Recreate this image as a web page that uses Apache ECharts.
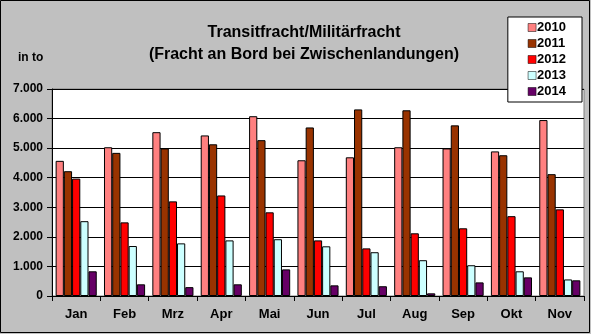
<!DOCTYPE html>
<html>
<head>
<meta charset="utf-8">
<script src="https://cdn.jsdelivr.net/npm/echarts@6/dist/echarts.min.js"></script>
<style>
html,body{margin:0;padding:0;background:#c0c0c0;}
#c{width:591px;height:334px;}
</style>
</head>
<body>
<div id="c"></div>
<script>
const categories = ['Jan','Feb','Mrz','Apr','Mai','Jun','Jul','Aug','Sep','Okt','Nov'];
const years = ['2010','2011','2012','2013','2014'];
const v2010 = [4570,5030,5540,5430,6080,4590,4690,5030,4990,4890,5950];
const v2011 = [4220,4840,4990,5130,5270,5700,6310,6280,5770,4760,4120];
const v2012 = [3970,2490,3200,3400,2830,1880,1610,2120,2290,2700,2930];
const v2013 = [2530,1690,1780,1880,1920,1680,1480,1210,1040,835,560];
const v2014 = [835,395,300,395,900,360,330,90,460,630,530];
const yTicks = [0,1000,2000,3000,4000,5000,6000,7000];
const colors = ['#FF8080','#993300','#FF0000','#CCFFFF','#660066'];
const values = [v2010,v2011,v2012,v2013,v2014];

const font = 'Arial, "Liberation Sans", sans-serif';
const chart = echarts.init(document.getElementById('c'));
chart.setOption({
  backgroundColor:'#c0c0c0',
  animation:false,
  title:{
    text:'Transitfracht/Militärfracht\n(Fracht an Bord bei Zwischenlandungen)',
    left:299, top:17, textAlign:'center',
    textStyle:{fontFamily:font,fontWeight:'bold',fontSize:16,color:'#000',lineHeight:22}
  },
  legend:{
    right:9, top:17, orient:'vertical',
    data:years,
    backgroundColor:'#fff', borderColor:'#000', borderWidth:1,
    padding:[4,16,4,20], itemGap:3,
    itemWidth:8, itemHeight:8, icon:'rect',
    itemStyle:{borderColor:'#000',borderWidth:0.5},
    textStyle:{fontFamily:font,fontWeight:'bold',fontSize:13,lineHeight:13,color:'#000',padding:[0,0,0,-4]}
  },
  grid:{left:52,right:7,top:89,bottom:38,show:true,backgroundColor:'#fff',borderColor:'#808080',borderWidth:1},
  graphic:[
    {type:'text',left:18,top:52,style:{text:'in to',font:'bold 12px '+font,fill:'#000'}},
    {type:'rect',shape:{x:0.5,y:0.5,width:589,height:332},style:{fill:'none',stroke:'#000',lineWidth:1},z:100}
  ],
  xAxis:{
    type:'category', data:categories,
    axisLine:{lineStyle:{color:'#000',width:1}},
    axisTick:{show:true,length:5,lineStyle:{color:'#000'}},
    axisLabel:{fontFamily:font,fontWeight:'bold',fontSize:13,color:'#000',margin:12}
  },
  yAxis:{
    type:'value', min:0, max:7000, interval:1000,
    axisLine:{show:true,lineStyle:{color:'#000'}},
    axisTick:{show:true,length:5,lineStyle:{color:'#000'}},
    splitLine:{lineStyle:{color:'#000',width:1}},
    axisLabel:{fontFamily:font,fontWeight:'bold',fontSize:12,color:'#000',margin:9,
      formatter:function(v){return yTicks.indexOf(v)>=0 ? (v===0?'0':(v/1000)+'.000') : '';}}
  },
  series: years.map((y,i)=>({
    name:y, type:'bar', data:values[i],
    barGap:'0%', barCategoryGap:'15%',
    itemStyle:{color:colors[i],borderColor:'#000',borderWidth:1}
  }))
});
</script>
</body>
</html>
